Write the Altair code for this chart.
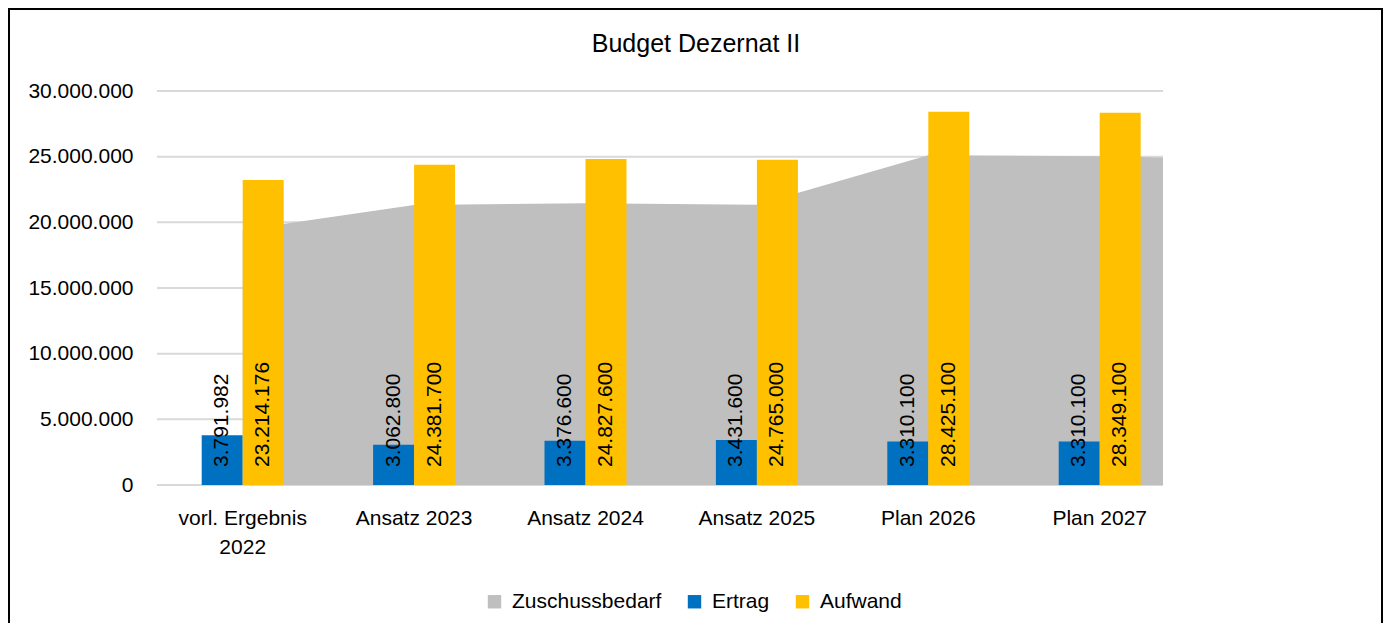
import altair as alt
import pandas as pd

# ---- data ----
title_text = "Budget Dezernat II"
categories = ["vorl. Ergebnis 2022", "Ansatz 2023", "Ansatz 2024", "Ansatz 2025", "Plan 2026", "Plan 2027"]
ertrag = [3791982, 3062800, 3376600, 3431600, 3310100, 3310100]
aufwand = [23214176, 24381700, 24827600, 24765000, 28425100, 28349100]
zuschuss = [19422194, 21318900, 21451000, 21333400, 25115000, 25039000]
# the grey area runs on past the last category to the right edge of the plot
tail_category = "_"
tail_zuschuss = 24750000
y_ticks = [0, 5000000, 10000000, 15000000, 20000000, 25000000, 30000000]

series_names = ["Zuschussbedarf", "Ertrag", "Aufwand"]
series_colors = ["#BFBFBF", "#0070C0", "#FFC000"]

FONT = "Liberation Sans, Arial, sans-serif"
FS = 21

def de_fmt(v):
    return f"{v:,}".replace(",", ".")

bars_rows = []
for c, e, a in zip(categories, ertrag, aufwand):
    bars_rows.append({"cat": c, "series": "Ertrag", "value": e, "label": de_fmt(e)})
    bars_rows.append({"cat": c, "series": "Aufwand", "value": a, "label": de_fmt(a)})
bars_df = pd.DataFrame(bars_rows)

area_df = pd.DataFrame({
    "cat": categories + [tail_category],
    "series": "Zuschussbedarf",
    "value": zuschuss + [tail_zuschuss],
})
grid_df = pd.DataFrame({"value": y_ticks})

all_cats = categories + [tail_category]
W, H = 1006, 394
step = 171.4
bar_w = 41

x_scale = alt.Scale(domain=all_cats, range=[0, step * len(all_cats)], paddingInner=0, paddingOuter=0)
x_enc = alt.X(
    "cat:N", scale=x_scale, sort=all_cats, title=None,
    axis=alt.Axis(
        values=categories, domain=False, ticks=False, grid=False, labelAngle=0,
        labelFont=FONT, labelFontSize=FS, labelColor="#000000", labelPadding=22,
        labelLineHeight=29,
        labelExpr="datum.value == 'vorl. Ergebnis 2022' ? ['vorl. Ergebnis', '2022'] : datum.value",
    ),
)
y_scale = alt.Scale(domain=[0, 30000000], nice=False)
y_enc = alt.Y(
    "value:Q", scale=y_scale, title=None,
    axis=alt.Axis(
        values=y_ticks, domain=False, ticks=False, grid=False,
        labelFont=FONT, labelFontSize=FS, labelColor="#000000", labelPadding=24,
        labelExpr="replace(format(datum.value, ',d'), regexp(',', 'g'), '.')",
    ),
)
color_enc = alt.Color(
    "series:N",
    scale=alt.Scale(domain=series_names, range=series_colors),
    legend=alt.Legend(
        title=None, orient="none", direction="horizontal", legendX=327, legendY=500,
        symbolType="square", symbolSize=180, symbolStrokeWidth=0, symbolOpacity=1,
        labelFont=FONT, labelFontSize=FS, labelColor="#000000", labelOffset=7,
        labelLimit=400, columnPadding=22,
    ),
)
half = step / 2
xoff = alt.XOffset(
    "series:N",
    scale=alt.Scale(domain=["Ertrag", "Aufwand"], range=[half - bar_w, half + bar_w],
                    paddingInner=0, paddingOuter=0),
)

grid = alt.Chart(grid_df).mark_rule(color="#D9D9D9", strokeWidth=2).encode(
    y=y_enc, x=alt.value(0), x2=alt.value(W)
)

area = alt.Chart(area_df).mark_area(clip=True, opacity=1).encode(x=x_enc, y=y_enc, color=color_enc)

bars = alt.Chart(bars_df).mark_bar(opacity=1).encode(x=x_enc, y=y_enc, color=color_enc, xOffset=xoff)

labels = alt.Chart(bars_df).mark_text(
    angle=270, align="left", baseline="middle", font=FONT, fontSize=FS, color="#000000"
).encode(x=x_enc, xOffset=xoff, y=alt.value(H - 18), text="label:N")

title = alt.Chart(pd.DataFrame({"t": [title_text]})).mark_text(
    align="center", baseline="alphabetic", font=FONT, fontSize=25, color="#000000"
).encode(text="t:N", x=alt.value(539), y=alt.value(-39))

border = alt.Chart(pd.DataFrame({"a": [0]})).mark_rect(
    filled=False, stroke="#000000", strokeWidth=2, clip=False
).encode(x=alt.value(-148), x2=alt.value(1225), y=alt.value(-82), y2=alt.value(700))

chart = alt.layer(grid, area, bars, labels, title, border).properties(
    width=W, height=H,
    autosize=alt.AutoSizeParams(type="none"),
    padding={"left": 149, "top": 83, "right": 220, "bottom": 138},
    background="#FFFFFF",
).configure_view(strokeOpacity=0, strokeWidth=0)

chart.save("out.html", embed_options={"renderer": "svg", "actions": False})
